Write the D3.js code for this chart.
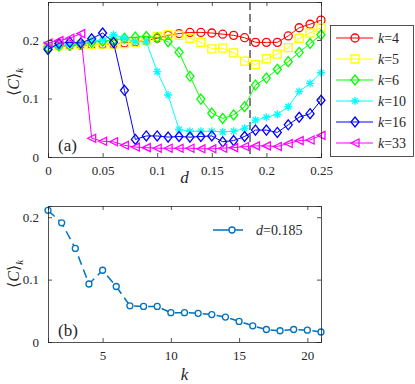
<!DOCTYPE html>
<html><head><meta charset="utf-8">
<script src="https://cdn.jsdelivr.net/npm/d3@7"></script>
<style>body{margin:0;background:#fff}svg{display:block}svg text{font-family:'Liberation Serif','Times New Roman',Times,'DejaVu Serif',serif !important;fill:#262626}</style>
</head><body><svg id="c" width="415" height="384"></svg>
<script>
const dValues = d3.range(26).map(i => +(i*0.01).toFixed(2));
const seriesK = [4,5,6,10,16,33];
const k4  = [0.188,0.190,0.190,0.191,0.192,0.193,0.193,0.195,0.197,0.199,0.203,0.208,0.211,0.213,0.213,0.212,0.210,0.208,0.204,0.196,0.196,0.196,0.207,0.221,0.227,0.234];
const k5  = [0.190,0.190,0.191,0.192,0.192,0.193,0.193,0.194,0.196,0.200,0.206,0.209,0.208,0.203,0.196,0.185,0.186,0.178,0.164,0.158,0.168,0.176,0.187,0.203,0.212,0.221];
const k6  = [0.186,0.190,0.191,0.193,0.196,0.198,0.200,0.203,0.205,0.206,0.204,0.197,0.179,0.138,0.099,0.075,0.066,0.072,0.086,0.123,0.135,0.150,0.163,0.179,0.194,0.209];
const k10 = [0.190,0.190,0.193,0.195,0.198,0.200,0.209,0.203,0.197,0.197,0.146,0.106,0.047,0.044,0.044,0.044,0.043,0.044,0.049,0.063,0.068,0.073,0.086,0.112,0.126,0.144];
const k16 = [0.184,0.194,0.196,0.195,0.202,0.212,0.196,0.114,0.030,0.036,0.036,0.034,0.035,0.034,0.035,0.036,0.026,0.028,0.035,0.046,0.046,0.042,0.055,0.068,0.074,0.097];
const k33 = [0.195,0.199,0.203,0.211,0.032,0.027,0.026,0.020,0.017,0.016,0.015,0.015,0.015,0.015,0.014,0.014,0.015,0.016,0.018,0.019,0.019,0.018,0.023,0.028,0.029,0.037];
const seriesA = [k4,k5,k6,k10,k16,k33];
const colorsA = ["#ff0000","#ffff00","#00ff00","#00ffff","#0000ff","#ff00ff"];
const markersA = ["circle","square","diamond","asterisk","diamond","triangleLeft"];
const dMark = 0.185;
const xTicksA = [0,0.05,0.1,0.15,0.2,0.25];
const yTicks = [0,0.1,0.2];
const kValues = d3.range(1,22);
const cB = [0.211,0.191,0.150,0.093,0.115,0.089,0.058,0.057,0.057,0.047,0.047,0.046,0.044,0.040,0.033,0.026,0.020,0.018,0.020,0.019,0.016];
const xTicksB = [5,10,15,20];

const svg = d3.select("#c");
const axisColor = "#262626";
const SERIF = "'Liberation Serif','Times New Roman',Times,'DejaVu Serif',serif";

function markerPath(type, s){
  switch(type){
    case "circle": return d3.symbol(d3.symbolCircle, Math.PI*s*s)();
    case "square": return `M${-s},${-s}H${s}V${s}H${-s}Z`;
    case "diamond": return `M0,${-s*1.25}L${s},0L0,${s*1.25}L${-s},0Z`;
    case "triangleLeft": return `M${-s},0L${s},${-s}L${s},${s}Z`;
    case "asterisk": { const a=s*0.72; return `M${-s},0H${s}M0,${-s}V${s}M${-a},${-a}L${a},${a}M${-a},${a}L${a},${-a}`; }
  }
}

function drawFrame(g, x, y, xt, yt, fmtX, fmtY){
  const [x0,x1]=x.range(), [y0,y1]=y.range();
  const gx = g.append("g").attr("transform",`translate(0,${y0})`)
    .call(d3.axisBottom(x).tickValues(xt).tickSize(-4).tickPadding(9).tickFormat(fmtX));
  const gy = g.append("g").attr("transform",`translate(${x0},0)`)
    .call(d3.axisLeft(y).tickValues(yt).tickSize(-4).tickPadding(9).tickFormat(fmtY));
  const gx2 = g.append("g").attr("transform",`translate(0,${y1})`)
    .call(d3.axisTop(x).tickValues(xt).tickSize(-4).tickFormat(""));
  const gy2 = g.append("g").attr("transform",`translate(${x1},0)`)
    .call(d3.axisRight(y).tickValues(yt).tickSize(-4).tickFormat(""));
  [gx,gy,gx2,gy2].forEach(a=>{
    a.attr("font-family",SERIF);
    a.selectAll("path.domain").attr("stroke",axisColor).attr("stroke-width",0.8);
    a.selectAll("line").attr("stroke",axisColor).attr("stroke-width",0.8);
    a.selectAll("text").attr("font-size",13).attr("fill",axisColor).attr("font-family",SERIF);
  });
}
const fmtNum = v => v===0 ? "0" : String(v);

// Panel (a)
const xA = d3.scaleLinear().domain([0,0.25]).range([48,321]);
const yA = d3.scaleLinear().domain([0,0.265]).range([157,2]);
const gA = svg.append("g").attr("font-family",SERIF);
gA.append("line").attr("x1",xA(dMark)).attr("x2",xA(dMark)).attr("y1",yA.range()[1]).attr("y2",yA.range()[0])
  .attr("stroke","#000").attr("stroke-width",1).attr("stroke-dasharray","8,4");
seriesA.forEach((s,i)=>{
  const line = d3.line().x((v,j)=>xA(dValues[j])).y(v=>yA(v));
  gA.append("path").attr("d",line(s)).attr("fill","none").attr("stroke",colorsA[i]).attr("stroke-width",1);
  gA.selectAll(null).data(s).enter().append("path")
    .attr("transform",(v,j)=>`translate(${xA(dValues[j])},${yA(v)})`)
    .attr("d",markerPath(markersA[i],4))
    .attr("fill","none").attr("stroke",colorsA[i]).attr("stroke-width",1.3);
});
drawFrame(gA,xA,yA,xTicksA,yTicks,fmtNum,fmtNum);
gA.append("text").attr("x",58).attr("y",151).attr("font-size",17).text("(a)");
gA.append("text").attr("x",xA(0.125)).attr("y",183).attr("text-anchor","middle").attr("font-size",17).attr("font-style","italic").text("d");
function yLabel(g, cx, cy){
  const t = g.append("text").attr("transform",`translate(${cx},${cy}) rotate(-90)`).attr("text-anchor","middle").attr("font-size",16);
  t.append("tspan").text("\u27E8");
  t.append("tspan").attr("font-style","italic").text("C");
  t.append("tspan").text("\u27E9");
  t.append("tspan").attr("font-style","italic").attr("font-size",11).attr("dy",4).text("k");
}
yLabel(gA, 19, 82);

// Legend (a)
const lg = svg.append("g").attr("font-family",SERIF);
lg.append("rect").attr("x",330.5).attr("y",25.5).attr("width",83).attr("height",131).attr("fill","#fff").attr("stroke",axisColor).attr("stroke-width",0.8);
seriesK.forEach((k,i)=>{
  const yy = 38 + i*21;
  lg.append("line").attr("x1",336).attr("x2",373).attr("y1",yy).attr("y2",yy).attr("stroke",colorsA[i]).attr("stroke-width",1);
  lg.append("path").attr("transform",`translate(355,${yy})`).attr("d",markerPath(markersA[i],4))
    .attr("fill","none").attr("stroke",colorsA[i]).attr("stroke-width",1.3);
  const t = lg.append("text").attr("x",378).attr("y",yy+5).attr("font-size",14);
  t.append("tspan").attr("font-style","italic").text("k");
  t.append("tspan").text("=" + k);
});

// Panel (b)
const xB = d3.scaleLinear().domain([1,21]).range([48,321]);
const yB = d3.scaleLinear().domain([0,0.218]).range([342,206]);
const gB = svg.append("g").attr("font-family",SERIF);
const lineB = d3.line().x((v,j)=>xB(kValues[j])).y(v=>yB(v));
gB.append("path").attr("d",lineB(cB)).attr("fill","none").attr("stroke","#0072BD").attr("stroke-width",1.5).attr("stroke-dasharray","9,5");
gB.selectAll(null).data(cB).enter().append("circle")
  .attr("cx",(v,j)=>xB(kValues[j])).attr("cy",v=>yB(v)).attr("r",3)
  .attr("fill","#fff").attr("stroke","#0072BD").attr("stroke-width",1.3);
drawFrame(gB,xB,yB,xTicksB,yTicks,fmtNum,fmtNum);
gB.append("text").attr("x",58).attr("y",336).attr("font-size",17).text("(b)");
gB.append("text").attr("x",xB(11)).attr("y",380).attr("text-anchor","middle").attr("font-size",17).attr("font-style","italic").text("k");
yLabel(gB, 19, 274);
// legend (b)
gB.append("line").attr("x1",213).attr("x2",243).attr("y1",230).attr("y2",230).attr("stroke","#0072BD").attr("stroke-width",1.5);
gB.append("circle").attr("cx",232).attr("cy",230).attr("r",3).attr("fill","#fff").attr("stroke","#0072BD").attr("stroke-width",1.3);
const tb = gB.append("text").attr("x",256).attr("y",235).attr("font-size",14);
tb.append("tspan").attr("font-style","italic").text("d");
tb.append("tspan").text("=0.185");
</script></body></html>
